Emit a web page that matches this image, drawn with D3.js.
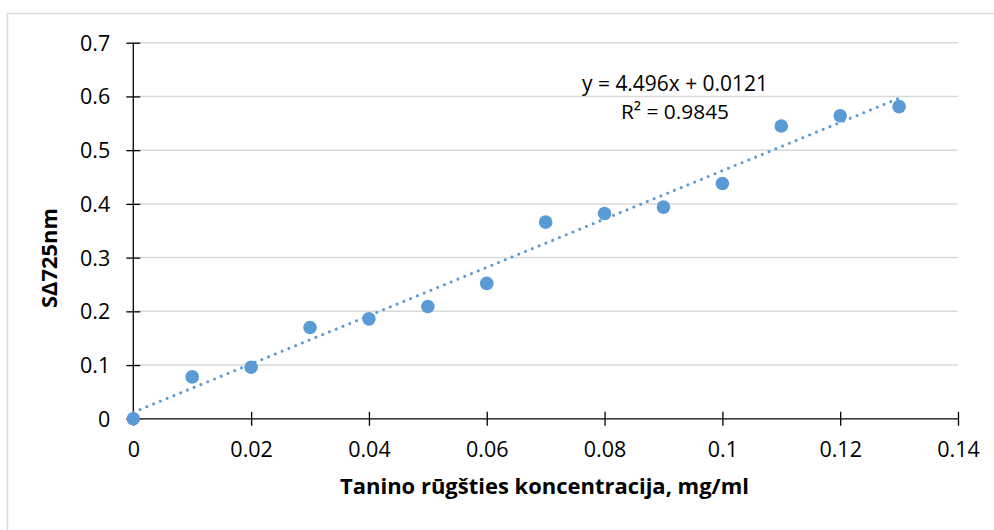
<!DOCTYPE html>
<html>
<head>
<meta charset="utf-8">
<script src="https://cdn.jsdelivr.net/npm/d3@7"></script>
<style>
  html, body { margin: 0; padding: 0; background: #fff; }
  svg { display: block; }
  text { font-family: "Open Sans", "Noto Sans", sans-serif; fill: #000; }
</style>
</head>
<body>
<svg id="chart" width="994" height="530"></svg>
<script>
// ---- Data ----
const concentrations = [0, 0.01, 0.02, 0.03, 0.04, 0.05, 0.06, 0.07, 0.08, 0.09, 0.1, 0.11, 0.12, 0.13];
const absorbance     = [0, 0.078, 0.096, 0.170, 0.186, 0.209, 0.252, 0.366, 0.382, 0.394, 0.438, 0.545, 0.564, 0.581];
const xTicks = [0, 0.02, 0.04, 0.06, 0.08, 0.1, 0.12, 0.14];
const xTickLabels = ["0", "0.02", "0.04", "0.06", "0.08", "0.1", "0.12", "0.14"];
const yTicks = [0, 0.1, 0.2, 0.3, 0.4, 0.5, 0.6, 0.7];
const yTickLabels = ["0", "0.1", "0.2", "0.3", "0.4", "0.5", "0.6", "0.7"];
const trendSlope = 4.496;
const trendIntercept = 0.0121;
const trendRange = [0, 0.13];
const equationText = "y = 4.496x + 0.0121";
const r2Text = "R² = 0.9845";
const xTitle = "Tanino rūgšties koncentracija, mg/ml";
const yTitle = "SΔ725nm";

// ---- Layout ----
const svg = d3.select("#chart");
const plot = { left: 133.3, right: 958, top: 42.7, bottom: 418.8 };
const color = "#5B9BD5";

// fit a text element's font size so its rendered width matches a target
function fitWidth(sel, target) {
  const node = sel.node();
  const fs = parseFloat(sel.attr("font-size"));
  const w = node.getComputedTextLength();
  if (w > 0) sel.attr("font-size", (fs * target / w).toFixed(2));
  return sel;
}

// chart area border
svg.append("rect")
  .attr("x", 7.5).attr("y", 13.5)
  .attr("width", 1000).attr("height", 600)
  .attr("fill", "#fff").attr("stroke", "#d9d9d9").attr("stroke-width", 1.5);

const x = d3.scaleLinear().domain([0, 0.14]).range([plot.left, plot.right]);
const y = d3.scaleLinear().domain([0, 0.7]).range([plot.bottom, plot.top]);

// gridlines
svg.append("g")
  .selectAll("line")
  .data(yTicks.filter(d => d > 0))
  .join("line")
  .attr("x1", plot.left).attr("x2", plot.right)
  .attr("y1", d => y(d)).attr("y2", d => y(d))
  .attr("stroke", "#d9d9d9").attr("stroke-width", 1.5);

// y axis
const yAxis = svg.append("g")
  .attr("transform", `translate(${plot.left},0)`)
  .call(d3.axisLeft(y).tickValues(yTicks).tickFormat((d, i) => yTickLabels[i]).tickSize(7).tickPadding(16));
yAxis.select(".domain").attr("stroke", "#000").attr("stroke-width", 1.3)
  .attr("d", `M0,${plot.bottom}V${plot.top}`);
yAxis.selectAll(".tick line").attr("x2", -7).attr("x1", 7).attr("stroke", "#000").attr("stroke-width", 1.3);
yAxis.selectAll(".tick text").attr("font-size", 21.5).attr("font-family", "Open Sans").attr("dy", "0.35em");

// x axis
const xAxis = svg.append("g")
  .attr("transform", `translate(0,${plot.bottom})`)
  .call(d3.axisBottom(x).tickValues(xTicks).tickFormat((d, i) => xTickLabels[i]).tickSize(7).tickPadding(16));
xAxis.select(".domain").attr("stroke", "#000").attr("stroke-width", 1.3)
  .attr("d", `M${plot.left},0H${plot.right}`);
xAxis.selectAll(".tick line").attr("y1", -7).attr("y2", 7).attr("stroke", "#000").attr("stroke-width", 1.3);
xAxis.selectAll(".tick text").attr("font-size", 21.5).attr("font-family", "Open Sans");

// points
const pts = concentrations.map((c, i) => ({ c, v: absorbance[i] }));
svg.append("g")
  .selectAll("circle")
  .data(pts)
  .join("circle")
  .attr("cx", d => x(d.c)).attr("cy", d => y(d.v))
  .attr("r", 6.8)
  .attr("fill", color);

// trendline
const trendPts = trendRange.map(c => ({ c, v: trendSlope * c + trendIntercept }));
svg.append("path")
  .datum(trendPts)
  .attr("d", d3.line().x(d => x(d.c)).y(d => y(d.v)))
  .attr("fill", "none")
  .attr("stroke", color)
  .attr("stroke-width", 3)
  .attr("stroke-linecap", "round")
  .attr("stroke-dasharray", "0.01 7.3");

// equation
fitWidth(svg.append("text")
  .attr("x", 675).attr("y", 91)
  .attr("text-anchor", "middle")
  .attr("font-size", 20)
  .text(equationText), 186);
fitWidth(svg.append("text")
  .attr("x", 675).attr("y", 119)
  .attr("text-anchor", "middle")
  .attr("font-size", 20)
  .text(r2Text), 108);

// axis titles
fitWidth(svg.append("text")
  .attr("x", 544.5).attr("y", 494)
  .attr("text-anchor", "middle")
  .attr("font-size", 21).attr("font-weight", "bold")
  .text(xTitle), 409);
fitWidth(svg.append("text")
  .attr("transform", "translate(57,258) rotate(-90)")
  .attr("text-anchor", "middle")
  .attr("font-size", 21).attr("font-weight", "bold")
  .text(yTitle), 100);
</script>
</body>
</html>
